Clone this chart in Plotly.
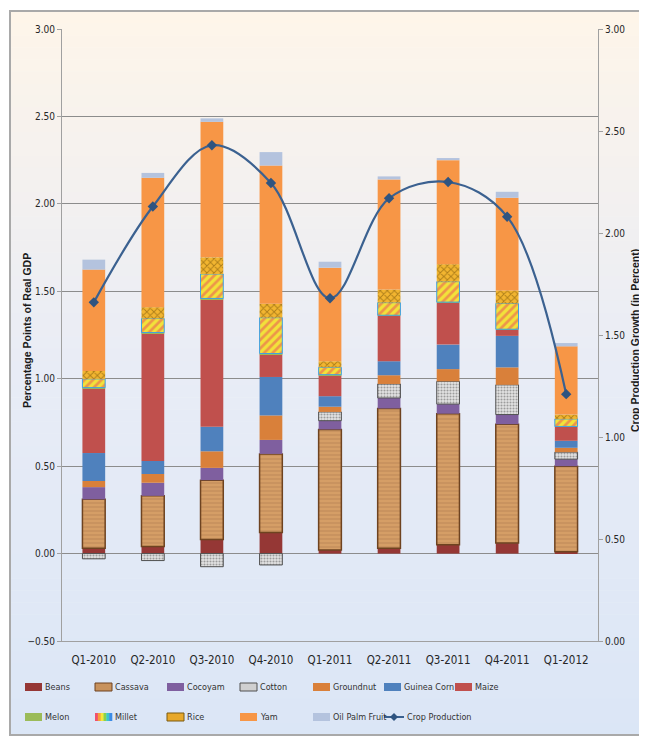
import plotly.graph_objects as go

categories = ["Q1-2010", "Q2-2010", "Q3-2010", "Q4-2010", "Q1-2011",
              "Q2-2011", "Q3-2011", "Q4-2011", "Q1-2012"]

beans = [0.03, 0.04, 0.08, 0.12, 0.02, 0.03, 0.05, 0.06, 0.01]
cassava = [0.28, 0.29, 0.34, 0.45, 0.69, 0.80, 0.75, 0.68, 0.49]
cocoyam = [0.07, 0.075, 0.07, 0.08, 0.05, 0.06, 0.055, 0.055, 0.04]
cotton = [-0.03, -0.04, -0.075, -0.065, 0.05, 0.08, 0.13, 0.17, 0.04]
groundnut = [0.035, 0.05, 0.095, 0.14, 0.03, 0.05, 0.07, 0.10, 0.025]
guinea_corn = [0.16, 0.075, 0.14, 0.22, 0.06, 0.08, 0.14, 0.18, 0.04]
maize = [0.37, 0.73, 0.73, 0.13, 0.12, 0.26, 0.24, 0.035, 0.08]
melon = [0.004, 0.004, 0.004, 0.004, 0.003, 0.003, 0.003, 0.003, 0.002]
millet = [0.05, 0.08, 0.14, 0.205, 0.042, 0.072, 0.117, 0.147, 0.043]
rice = [0.045, 0.065, 0.095, 0.08, 0.035, 0.075, 0.10, 0.075, 0.025]
yam = [0.58, 0.74, 0.775, 0.79, 0.535, 0.63, 0.595, 0.53, 0.39]
oil_palm = [0.057, 0.028, 0.02, 0.077, 0.034, 0.017, 0.012, 0.034, 0.019]
crop_production = [1.66, 2.13, 2.43, 2.245, 1.68, 2.17, 2.25, 2.08, 1.21]

legend_row1 = ["Beans", "Cassava", "Cocoyam", "Cotton", "Groundnut", "Guinea Corn", "Maize"]
legend_row2 = ["Melon", "Millet", "Rice", "Yam", "Oil Palm Fruit", "Crop Production"]

FONT = "Liberation Sans Narrow, Arial Narrow, DejaVu Sans Condensed, Liberation Sans, Arial"

styles = {
    "Beans": dict(color="#953735"),
    "Cassava": dict(color="#D59E66",
                    pattern=dict(shape="-", fgcolor="#9A6A3E", size=4, solidity=0.2),
                    line=dict(color="#6E4320", width=1.5)),
    "Cocoyam": dict(color="#7F5F9F"),
    "Cotton": dict(color="#E3E3E3",
                   pattern=dict(shape=".", fgcolor="#555555", size=3, solidity=0.4),
                   line=dict(color="#505050", width=1)),
    "Groundnut": dict(color="#D9803A"),
    "Guinea Corn": dict(color="#4F81BD"),
    "Maize": dict(color="#C0504D"),
    "Melon": dict(color="#9BBB59"),
    "Millet": dict(color="#F2E23A",
                   pattern=dict(shape="/", fgcolor="#E8485A", size=6, solidity=0.45),
                   line=dict(color="#3FA0E0", width=1)),
    "Rice": dict(color="#F2B530",
                 pattern=dict(shape="x", fgcolor="#6B4A05", size=5, solidity=0.35)),
    "Yam": dict(color="#F79646"),
    "Oil Palm Fruit": dict(color="#B4C3DE"),
}
values = {
    "Beans": beans, "Cassava": cassava, "Cocoyam": cocoyam, "Cotton": cotton,
    "Groundnut": groundnut, "Guinea Corn": guinea_corn, "Maize": maize, "Melon": melon,
    "Millet": millet, "Rice": rice, "Yam": yam, "Oil Palm Fruit": oil_palm,
}
LINE_COLOR = "#3B6190"

fig = go.Figure()
for name in legend_row1 + legend_row2[:-1]:
    m = dict(styles[name])
    if "line" not in m:
        m["line"] = dict(width=0)
    fig.add_trace(go.Bar(x=categories, y=values[name], name=name, marker=m, showlegend=False))

fig.add_trace(go.Scatter(
    x=categories, y=crop_production, name="Crop Production", yaxis="y2",
    mode="lines+markers", line=dict(color=LINE_COLOR, width=2.2, shape="spline", smoothing=1.0),
    marker=dict(symbol="diamond", size=8, color="#2F5480"), showlegend=False))

# page is rendered with an 8px body margin: work in page coords, convert to figure coords
OFF = 8
W, H = 647 - OFF, 736 - OFF
L, R, T, B = 62 - OFF, 598 - OFF, 29 - OFF, 641 - OFF
pw, ph = R - L, B - T
def px(xpage):
    return (xpage - OFF - L) / pw
def py(ypage):
    return (B - (ypage - OFF)) / ph

# background gradient + frame
top_c = (254, 245, 233)
mid_c = (232, 236, 246)
bot_c = (219, 230, 246)
shapes = []
fx0, fx1 = px(10), px(660)
fy_top, fy_bot = 11, 735
n = 60
for i in range(n):
    t0 = i / n
    t = (i + 0.5) / n
    if t < 0.5:
        a, b, u = top_c, mid_c, t / 0.5
    else:
        a, b, u = mid_c, bot_c, (t - 0.5) / 0.5
    c = tuple(int(round(a[k] + (b[k] - a[k]) * u)) for k in range(3))
    y0 = fy_top + (fy_bot - fy_top) * t0
    y1 = fy_top + (fy_bot - fy_top) * (i + 1) / n
    shapes.append(dict(type="rect", xref="paper", yref="paper", layer="below",
                       x0=fx0, x1=fx1, y0=py(y1 + 0.5), y1=py(y0),
                       fillcolor="rgb(%d,%d,%d)" % c, line=dict(width=0)))
shapes.append(dict(type="rect", xref="paper", yref="paper", layer="below",
                   x0=fx0, x1=fx1, y0=py(fy_bot), y1=py(fy_top),
                   fillcolor="rgba(0,0,0,0)", line=dict(color="#A9A9A9", width=2)))

annotations = [
    dict(text="<b>Percentage Points of Real GDP</b>", textangle=-90, xref="paper", yref="paper",
         x=px(27), y=py(331), xanchor="center", yanchor="middle", showarrow=False,
         font=dict(family="Liberation Sans, Arial", size=10.5, color="#1a1a1a")),
    dict(text="<b>Crop Production Growth (in Percent)</b>", textangle=-90, xref="paper", yref="paper",
         x=px(635), y=py(341), xanchor="center", yanchor="middle", showarrow=False,
         font=dict(family="Liberation Sans, Arial", size=10.5, color="#1a1a1a")),
]

# legend drawn as swatches + text
col_x = [25, 95, 167, 240, 313, 384, 455]
row_y = [687, 717]
SW, SH = 17, 8

def rect(x0, y0, x1, y1, fill, line=None, lw=0):
    return dict(type="rect", xref="paper", yref="paper", layer="above",
                x0=px(x0), x1=px(x1), y0=py(y1), y1=py(y0), fillcolor=fill,
                line=dict(color=line or fill, width=lw))

rainbow = ["#F0506E", "#F7A13A", "#F5E83A", "#8CD24A", "#3CC8C8", "#3C8CE6"]
for r, row in enumerate([legend_row1, legend_row2]):
    yc = row_y[r]
    for ci, name in enumerate(row):
        x0 = col_x[ci]
        if name == "Crop Production":
            shapes.append(dict(type="line", xref="paper", yref="paper", layer="above",
                               x0=px(x0), x1=px(x0 + 20), y0=py(yc), y1=py(yc),
                               line=dict(color=LINE_COLOR, width=2)))
            xc = x0 + 10
            shapes.append(dict(type="path", xref="paper", yref="paper", layer="above",
                               path="M %f,%f L %f,%f L %f,%f L %f,%f Z" % (
                                   px(xc), py(yc - 4), px(xc + 4), py(yc),
                                   px(xc), py(yc + 4), px(xc - 4), py(yc)),
                               fillcolor="#2F5480", line=dict(width=0)))
            tx = x0 + 21
        else:
            if name == "Millet":
                w = SW / len(rainbow)
                for k, col in enumerate(rainbow):
                    shapes.append(rect(x0 + k * w, yc - SH / 2, x0 + (k + 1) * w + 0.3,
                                       yc + SH / 2, col))
            elif name == "Rice":
                shapes.append(rect(x0, yc - SH / 2, x0 + SW, yc + SH / 2, "#E8A82A", "#7A5A10", 1))
            elif name == "Cassava":
                shapes.append(rect(x0, yc - SH / 2, x0 + SW, yc + SH / 2, "#C8925C", "#6E4320", 1))
            elif name == "Cotton":
                shapes.append(rect(x0, yc - SH / 2, x0 + SW, yc + SH / 2, "#D0D0D0", "#505050", 1))
            else:
                shapes.append(rect(x0, yc - SH / 2, x0 + SW, yc + SH / 2, styles[name]["color"]))
            tx = x0 + SW + 1
        annotations.append(dict(text=name, xref="paper", yref="paper", x=px(tx), y=py(yc),
                                xanchor="left", yanchor="middle", showarrow=False,
                                font=dict(family=FONT, size=9, color="#333333")))

fig.update_layout(
    width=W, height=H,
    margin=dict(l=L, r=W - R, t=T, b=H - B, autoexpand=False),
    paper_bgcolor="white", plot_bgcolor="rgba(0,0,0,0)",
    barmode="relative", bargap=0.615, showlegend=False,
    font=dict(family=FONT, size=11, color="#262626"),
    shapes=shapes, annotations=annotations,
    xaxis=dict(showgrid=False, showline=True, linecolor="#A0A0A0", linewidth=1,
               ticks="", ticklabelstandoff=8, tickfont=dict(size=11.5), fixedrange=True,
               automargin=False),
    yaxis=dict(range=[-0.5, 3.0], dtick=0.5, tickformat=".2f", showgrid=True,
               gridcolor="#8C8C8C", gridwidth=1, zeroline=True, zerolinecolor="#8C8C8C",
               zerolinewidth=1, showline=True, linecolor="#A0A0A0", ticks="outside",
               ticklen=4, tickcolor="#A0A0A0", tickfont=dict(size=10), automargin=False),
    yaxis2=dict(range=[0, 3.0], dtick=0.5, tickformat=".2f", overlaying="y", side="right",
                showgrid=False, zeroline=False, showline=True, linecolor="#A0A0A0",
                ticks="outside", ticklen=4, tickcolor="#A0A0A0", tickfont=dict(size=10),
                automargin=False),
)

fig.write_html("out.html")
